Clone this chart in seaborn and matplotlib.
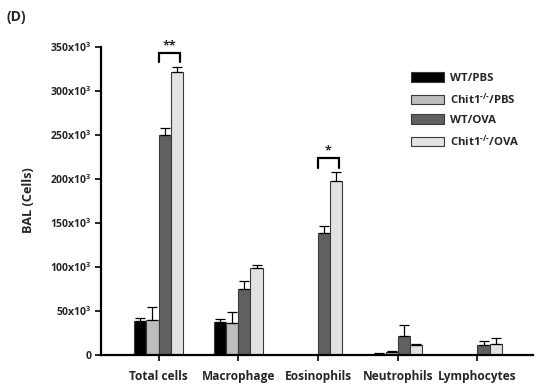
import numpy as np
import pandas as pd
import matplotlib
matplotlib.use("Agg")
import matplotlib.pyplot as plt
import seaborn as sns

categories = ["Total cells", "Macrophage", "Eosinophils", "Neutrophils", "Lymphocytes"]
groups = ["WT/PBS", "Chit1-/-/PBS", "WT/OVA", "Chit1-/-/OVA"]
group_labels = ["WT/PBS", r"Chit1$^{\text{-/-}}$/PBS", "WT/OVA", r"Chit1$^{\text{-/-}}$/OVA"]

wt_pbs = [39000, 38000, 0, 1500, 0]
chit_pbs = [40000, 36000, 0, 3000, 0]
wt_ova = [250000, 75000, 139000, 22000, 11500]
chit_ova = [321000, 98500, 198000, 11500, 12500]

wt_pbs_err = [3500, 3000, 0, 300, 0]
chit_pbs_err = [15000, 13000, 0, 1800, 0]
wt_ova_err = [8000, 9000, 7500, 12000, 4500]
chit_ova_err = [6000, 3500, 9500, 800, 6500]

colors = ["#000000", "#bdbdbd", "#606060", "#e2e2e2"]
ytick_vals = [0, 50000, 100000, 150000, 200000, 250000, 300000, 350000]
ytick_labels = ["0", "50x10$^3$", "100x10$^3$", "150x10$^3$", "200x10$^3$",
                "250x10$^3$", "300x10$^3$", "350x10$^3$"]

FONT = "Open Sans"
sns.set_style("white")
plt.rcParams['font.family'] = [FONT, 'DejaVu Sans']
plt.rcParams['font.weight'] = 'bold'
plt.rcParams['mathtext.fontset'] = 'custom'
plt.rcParams['mathtext.rm'] = FONT + ':bold'
plt.rcParams['mathtext.bf'] = FONT + ':bold'
plt.rcParams['mathtext.it'] = FONT + ':bold:italic'
plt.rcParams['mathtext.default'] = 'rm'

vals = [wt_pbs, chit_pbs, wt_ova, chit_ova]
errs = [wt_pbs_err, chit_pbs_err, wt_ova_err, chit_ova_err]
rows = []
for g, v in zip(groups, vals):
    for c, x in zip(categories, v):
        rows.append({"cat": c, "group": g, "val": x})
df = pd.DataFrame(rows)

fig = plt.figure(figsize=(5.37, 3.88), dpi=100)
ax = fig.add_axes([0.189, 0.085, 0.804, 0.795])

sns.barplot(data=df, x="cat", y="val", hue="group", order=categories,
            hue_order=groups, palette=colors, errorbar=None, width=0.61,
            edgecolor="#3a3a3a", linewidth=0.8, ax=ax, legend=True)

for cont, e in zip(ax.containers, errs):
    xs = [p.get_x() + p.get_width() / 2 for p in cont.patches]
    hs = [p.get_height() for p in cont.patches]
    for x, h, er in zip(xs, hs, e):
        if h <= 0:
            continue
        ax.errorbar([x], [h], yerr=[[0], [er]], fmt="none", ecolor="black",
                    elinewidth=0.9, capsize=3.5, capthick=0.9, zorder=1)

# significance brackets
def bracket(x0, x1, y, drop, text):
    ax.plot([x0, x0, x1, x1], [y - drop, y, y, y - drop], color="black", lw=1.6,
            solid_joinstyle="miter", clip_on=False)
    ax.text((x0 + x1) / 2, y + 500, text, ha="center", va="bottom", fontsize=9,
            fontweight="bold")

bracket(0.0, 0.27, 343000, 11000, "**")
bracket(2.0, 2.26, 224000, 12000, "*")

ax.set_xlim(-0.716, 4.7)
ax.set_ylim(0, 350000)
ax.set_yticks(ytick_vals)
ax.set_yticklabels(ytick_labels, fontsize=7.5, fontweight="bold")
ax.set_xticks(range(len(categories)))
ax.set_xticklabels(categories, fontsize=8.6, fontweight="bold")
ax.set_xlabel("")
ax.set_ylabel("BAL (Cells)", fontsize=9.2, fontweight="bold")
ax.yaxis.set_label_coords(29 / 537, 1 - 200 / 388, transform=fig.transFigure)
ax.yaxis.label.set_va("center")
for s in ["top", "right"]:
    ax.spines[s].set_visible(False)
for s in ["left", "bottom"]:
    ax.spines[s].set_linewidth(1.6)
    ax.spines[s].set_color("black")
ax.tick_params(axis="both", direction="out", length=4, width=1.2, color="black",
               left=True, bottom=True, pad=7)
ax.tick_params(axis="y", pad=3)

handles, _ = ax.get_legend_handles_labels()
leg = ax.legend(handles, group_labels, loc="upper left",
                bbox_to_anchor=(0.756, 0.825), bbox_transform=fig.transFigure,
                frameon=False, fontsize=8.2, handlelength=2.9, handleheight=0.9,
                labelspacing=0.68, handletextpad=0.6, borderaxespad=0)
for t in leg.get_texts():
    t.set_fontweight("bold")

fig.text(0.013, 0.955, "(D)", fontsize=10, fontweight="bold", va="center")

fig.savefig("out.png", dpi=100)
